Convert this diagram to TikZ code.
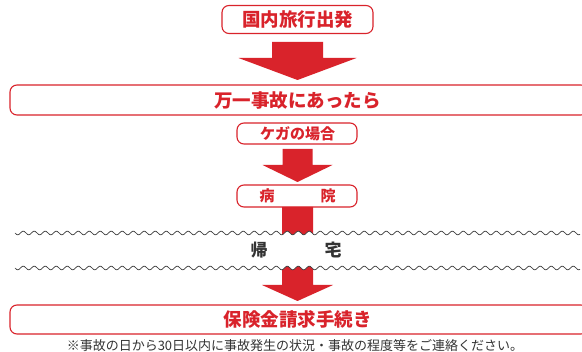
\documentclass[tikz,border=0pt]{standalone}
\usepackage{fontspec}
\newfontfamily\jp{Noto Sans CJK JP}
\definecolor{jred}{HTML}{D9232B}
\definecolor{wavegray}{HTML}{3A3A3A}
\definecolor{txtgray}{HTML}{333333}
\newcommand\blkarrow[5]{% shaft half, head half, top, base, tip
  \fill[jred] (297.5-#1,#3) -- (297.5+#1,#3) -- (297.5+#1,#4) -- (297.5+#2,#4)
    -- (297.5,#5) -- (297.5-#2,#4) -- (297.5-#1,#4) -- cycle;}
\newcommand\wavey[1]{#1+1.8*sin(mod(\x-15,11)*360/11)}
\begin{document}
\begin{tikzpicture}[x=1pt,y=-1pt,
  box/.style={draw=jred, line width=1.1pt, rounded corners=7pt, inner sep=0pt},
  lbl/.style={text=jred, inner sep=0pt},
  big/.style={lbl, font=\jp\bfseries\fontsize{18.5pt}{20pt}\selectfont},
  small/.style={lbl, font=\jp\bfseries\fontsize{15pt}{17pt}\selectfont},
  home/.style={text=txtgray, inner sep=0pt, font=\jp\bfseries\fontsize{17pt}{19pt}\selectfont},
  note/.style={text=txtgray, inner sep=0pt, font=\jp\fontsize{13pt}{14pt}\selectfont},
  wave/.style={draw=wavegray, line width=0.7pt}]
\useasboundingbox (0,0) rectangle (582,352);
\fill[white] (0,0) rectangle (582,352);
% boxes
\node[box, minimum width=151pt, minimum height=28pt] (b1) at (297.5,19.5) {};
\node[big] (t1) at (297.5,19.5) {国内旅行出発};
\node[box, minimum width=578pt, minimum height=30pt] (b2) at (299,100) {};
\node[big] (t2) at (297.5,100) {万一事故にあったら};
\node[box, minimum width=120pt, minimum height=21pt] (b3) at (297,133.5) {};
\node[small] (t3) at (297.5,133.5) {ケガの場合};
\node[box, minimum width=120pt, minimum height=22pt] (b4) at (297,196) {};
\node[small] (t4a) at (267,196) {病};
\node[small] (t4b) at (328,196) {院};
\node[box, minimum width=578pt, minimum height=29pt] (b5) at (299,319.5) {};
\node[big] (t5) at (297.5,319.5) {保険金請求手続き};
% arrows
\blkarrow{25.5}{59}{42}{58}{80}
\blkarrow{15}{35}{149}{165}{182}
\blkarrow{15.5}{35.5}{207}{285}{301}
% white band between waves
\fill[white] plot[domain=274:322,samples=97] (\x,{\wavey{233}})
  -- plot[domain=322:274,samples=97] (\x,{\wavey{268}}) -- cycle;
\draw[wave] plot[domain=15:580,samples=1131] (\x,{\wavey{233}});
\draw[wave] plot[domain=15:580,samples=1131] (\x,{\wavey{268}});
\node[home] (h1) at (259,250) {帰};
\node[home] (h2) at (333,250) {宅};
\node[note] (n1) at (295,346) {※事故の日から30日以内に事故発生の状況・事故の程度等をご連絡ください。};
\end{tikzpicture}
\end{document}
